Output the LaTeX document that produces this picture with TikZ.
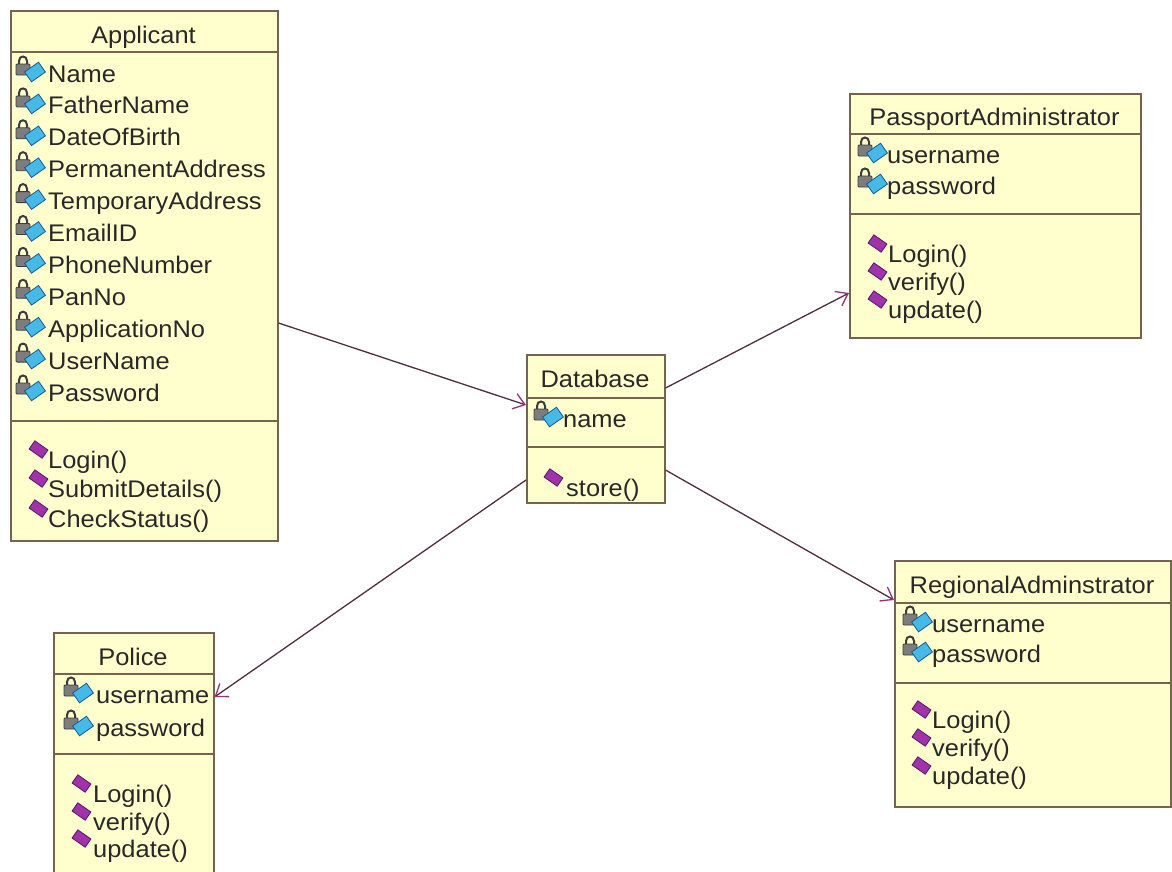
\documentclass[tikz,border=0pt]{standalone}
\usepackage{fontspec}
\setmainfont[FakeStretch=1.06]{Liberation Sans}
\usetikzlibrary{arrows.meta,calc}
\definecolor{boxfill}{RGB}{255,255,206}
\definecolor{boxline}{RGB}{118,98,78}
\definecolor{txtcol}{RGB}{40,40,40}
\definecolor{lnk}{RGB}{80,45,65}
\definecolor{tipcol}{RGB}{150,50,120}
\definecolor{lockbody}{RGB}{125,125,125}
\definecolor{lockdark}{RGB}{60,60,60}
\definecolor{attrblue}{RGB}{70,185,230}
\definecolor{attrblueline}{RGB}{20,90,150}
\definecolor{methfill}{RGB}{160,50,170}
\definecolor{methline}{RGB}{90,20,100}
\tikzset{
 classbox/.style={draw=boxline, fill=boxfill, line width=1.5pt, anchor=north west, inner sep=0pt},
 sepline/.style={draw=boxline, line width=1.5pt},
 txt/.style={text=txtcol, font=\fontsize{24}{28}\selectfont, inner sep=0pt, anchor=base west},
 hdr/.style={txt, anchor=base},
 assoc/.style={draw=lnk, line width=1.3pt, -{Straight Barb[length=11pt,width=16pt,color=tipcol,line width=1.3pt]}},
 attricon/.pic={
   \draw[lockdark, line width=2pt] (4,-16) -- (4,-21) .. controls (4,-27) and (12,-27) .. (12,-21) -- (12,-16);
   \draw[fill=lockbody, draw=lockdark, line width=0.8pt, rounded corners=1pt] (1,-18) rectangle (15,-7);
   \draw[fill=attrblue, draw=attrblueline, line width=0.8pt, rotate around={35:(20,-10)}] (11.5,-16) rectangle (28.5,-4);
 },
 methicon/.pic={
   \draw[fill=methfill, draw=methline, line width=0.8pt, rotate around={-35:(8.5,-18.5)}] (0.5,-23.5) rectangle (16.5,-13.5);
 },
}
\begin{document}
\begin{tikzpicture}[x=1pt,y=-1pt]
\useasboundingbox (0,0) rectangle (1172,871);
\clip (0,0) rectangle (1172,871);
\fill[white] (0,0) rectangle (1172,871);

% Applicant
\node[classbox, minimum width=267pt, minimum height=530pt] (app) at (10,10) {};
\draw[sepline] ([yshift=-42pt]app.north west) -- ([yshift=-42pt]app.north east);
\draw[sepline] ([yshift=-411pt]app.north west) -- ([yshift=-411pt]app.north east);
\node[hdr] (appT) at (143.5,43) {Applicant};
\foreach \t [count=\i] in {Name,FatherName,DateOfBirth,PermanentAddress,TemporaryAddress,EmailID,PhoneNumber,PanNo,ApplicationNo,UserName,Password}{
  \pic at (15,{82+(\i-1)*31.9}) {attricon};
  \node[txt] (appA\i) at (48,{82+(\i-1)*31.9}) {\t};
}
\foreach \t/\y [count=\i] in {Login()/468,SubmitDetails()/497,CheckStatus()/527}{
  \pic at (30,\y) {methicon};
  \node[txt] (appM\i) at (48,\y) {\t};
}

% Database
\node[classbox, minimum width=138pt, minimum height=148pt] (db) at (526,354) {};
\draw[sepline] ([yshift=-44pt]db.north west) -- ([yshift=-44pt]db.north east);
\draw[sepline] ([yshift=-93pt]db.north west) -- ([yshift=-93pt]db.north east);
\node[hdr] (dbT) at (595,387) {Database};
\pic at (533,427) {attricon};
\node[txt] (dbA1) at (563,427) {name};
\pic at (545,496) {methicon};
\node[txt] (dbM1) at (566,496) {store()};

% PassportAdministrator
\node[classbox, minimum width=291pt, minimum height=244pt] (pa) at (849,93) {};
\draw[sepline] ([yshift=-41pt]pa.north west) -- ([yshift=-41pt]pa.north east);
\draw[sepline] ([yshift=-121pt]pa.north west) -- ([yshift=-121pt]pa.north east);
\node[hdr] (paT) at (994.5,125) {PassportAdministrator};
\foreach \t/\y [count=\i] in {username/163,password/194}{
  \pic at (857,\y) {attricon};
  \node[txt] (paA\i) at (887,\y) {\t};
}
\foreach \t/\y [count=\i] in {Login()/262,verify()/290,update()/318}{
  \pic at (869,\y) {methicon};
  \node[txt] (paM\i) at (888,\y) {\t};
}

% RegionalAdminstrator
\node[classbox, minimum width=276pt, minimum height=246pt] (ra) at (894,560) {};
\draw[sepline] ([yshift=-43pt]ra.north west) -- ([yshift=-43pt]ra.north east);
\draw[sepline] ([yshift=-123pt]ra.north west) -- ([yshift=-123pt]ra.north east);
\node[hdr] (raT) at (1032,593) {RegionalAdminstrator};
\foreach \t/\y [count=\i] in {username/632,password/662}{
  \pic at (902,\y) {attricon};
  \node[txt] (raA\i) at (932,\y) {\t};
}
\foreach \t/\y [count=\i] in {Login()/728,verify()/756,update()/784}{
  \pic at (913,\y) {methicon};
  \node[txt] (raM\i) at (932,\y) {\t};
}

% Police
\node[classbox, minimum width=160pt, minimum height=260pt] (pol) at (53,632) {};
\draw[sepline] ([yshift=-42pt]pol.north west) -- ([yshift=-42pt]pol.north east);
\draw[sepline] ([yshift=-122pt]pol.north west) -- ([yshift=-122pt]pol.north east);
\node[hdr] (polT) at (133,665) {Police};
\foreach \t/\y [count=\i] in {username/703,password/736}{
  \pic at (63,\y) {attricon};
  \node[txt] (polA\i) at (96,\y) {\t};
}
\foreach \t/\y [count=\i] in {Login()/802,verify()/830,update()/857}{
  \pic at (73,\y) {methicon};
  \node[txt] (polM\i) at (93,\y) {\t};
}

% associations
\draw[assoc] ([yshift=-313pt]app.north east) -- ([yshift=-51pt]db.north west);
\draw[assoc] ([yshift=-34pt]db.north east) -- ([yshift=-200pt]pa.north west);
\draw[assoc] ([yshift=-126pt]db.north west) -- ([yshift=-65pt]pol.north east);
\draw[assoc] ([yshift=-116pt]db.north east) -- ([yshift=-40pt]ra.north west);
\end{tikzpicture}
\end{document}
